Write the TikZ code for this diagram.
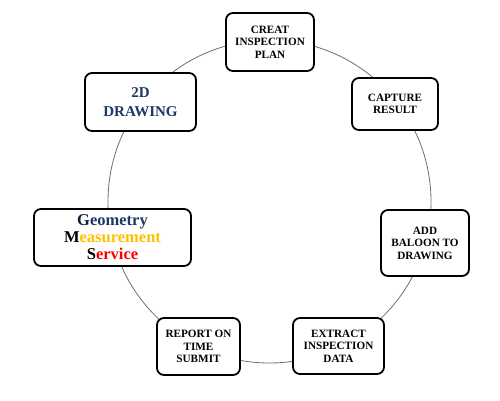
\documentclass[tikz,border=0pt]{standalone}
\usepackage{fontspec}
\setmainfont{Liberation Serif}
\definecolor{navy}{RGB}{31,56,100}
\definecolor{navyd}{RGB}{18,28,58}
\definecolor{gold}{RGB}{255,192,0}
\definecolor{redc}{RGB}{255,0,0}
\definecolor{ringc}{RGB}{110,110,110}
\tikzset{
  box/.style={draw=black, line width=1.8pt, rounded corners=7pt, fill=white, align=center, inner sep=0pt, font=\bfseries\fontsize{11.2}{12.6}\selectfont},
  ring/.style={draw=ringc, line width=0.8pt}
}
\begin{document}
\begin{tikzpicture}[x=1pt,y=-1pt]
\useasboundingbox (0,0) rectangle (500,400);
\coordinate (c) at (269.5,201.5);
\draw[ring] (c) circle[radius=161.5];
\node[box, minimum width=88pt, minimum height=58pt] (plan) at (270,42) {CREAT\\INSPECTION\\PLAN};
\node[box, minimum width=86pt, minimum height=52pt] (capture) at (395,104) {CAPTURE\\RESULT};
\node[box, minimum width=88pt, minimum height=66pt] (balloon) at (425,243) {ADD\\BALOON TO\\DRAWING};
\node[box, minimum width=91pt, minimum height=56pt] (extract) at (338.5,346) {EXTRACT\\INSPECTION\\DATA};
\node[box, minimum width=83pt, minimum height=57pt] (report) at (198.5,346.5) {REPORT ON\\TIME\\SUBMIT};
\node[box, minimum width=157pt, minimum height=57pt, font=\bfseries\fontsize{16.5}{17}\selectfont] (gms) at (112.5,237.5)
  {\textcolor{navyd}{G}\textcolor{navy}{eometry}\\\textcolor{black}{M}\textcolor{gold}{easurement}\\\textcolor{black}{S}\textcolor{redc}{ervice}};
\node[box, minimum width=111pt, minimum height=58pt, text=navy, font=\bfseries\fontsize{15}{19}\selectfont] (draw2d) at (140.5,102) {2D\\DRAWING};
\end{tikzpicture}
\end{document}
